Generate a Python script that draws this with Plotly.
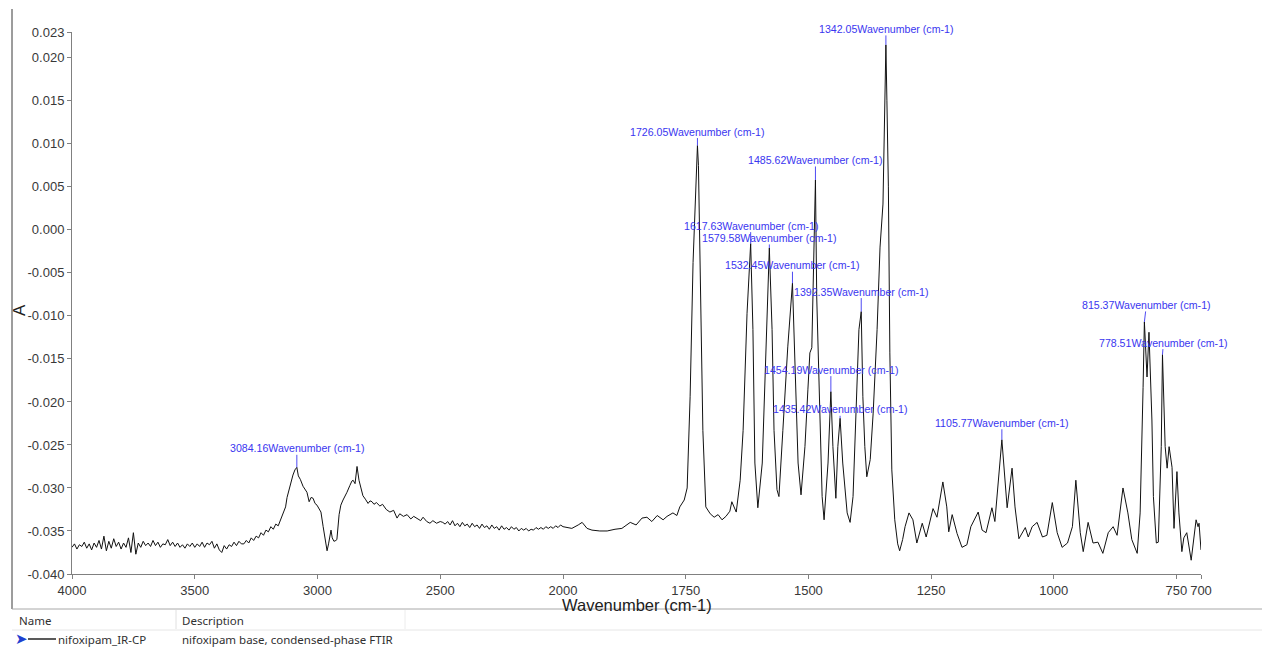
import plotly.graph_objects as go

# ---------------- data ----------------
wn_high = [
    4000, 3990, 3980, 3970, 3960, 3950, 3940, 3930, 3920, 3910,
    3900, 3890, 3880, 3870, 3860, 3850, 3840, 3830, 3820, 3810,
    3800, 3790, 3780, 3770, 3760, 3750, 3740, 3730, 3720, 3710,
    3700, 3690, 3680, 3670, 3660, 3650, 3640, 3630, 3620, 3610,
    3600, 3590, 3580, 3570, 3560, 3550, 3540, 3530, 3520, 3510,
    3500, 3490, 3480, 3470, 3460, 3450, 3440, 3430, 3420, 3410,
    3400, 3390, 3380, 3370, 3360, 3350, 3340, 3330, 3320, 3310,
    3300, 3290, 3280, 3270, 3260, 3250, 3240, 3230, 3220, 3210,
    3200, 3190, 3180, 3170, 3160, 3150, 3140, 3130, 3124, 3115,
    3108, 3100, 3092, 3084.16, 3078, 3070, 3059, 3050, 3043, 3034,
    3026, 3018, 3010, 3002, 2994, 2986, 2977, 2970, 2965, 2961,
    2955, 2949, 2945, 2940, 2933, 2925, 2921, 2912, 2905, 2896,
    2888, 2880, 2868, 2860, 2855, 2847, 2839, 2831, 2823, 2815,
    2805, 2794, 2786, 2778, 2770, 2760, 2746, 2735, 2720, 2705,
    2690, 2676, 2665, 2650, 2635, 2620, 2608, 2595, 2580, 2570,
    2555, 2542, 2530, 2515, 2500, 2490, 2480, 2470, 2460, 2450,
    2440, 2430, 2420, 2410, 2400, 2390, 2380, 2370, 2360, 2350,
    2340, 2330, 2320, 2310, 2300, 2290, 2280, 2270, 2260, 2250,
    2240, 2230, 2220, 2210, 2200, 2190, 2180, 2170, 2160, 2150,
    2140, 2130, 2120, 2110, 2100, 2090, 2080, 2070, 2060, 2050,
    2040, 2030, 2020, 2010, 2000,
]
abs_high = [
    -0.0369, -0.0365, -0.0371, -0.0366, -0.0368, -0.0363, -0.0370, -0.0365, -0.0372, -0.0364,
    -0.0369, -0.0361, -0.0371, -0.0356, -0.0373, -0.0362, -0.0370, -0.0359, -0.0368, -0.0363,
    -0.0371, -0.0364, -0.0369, -0.0358, -0.0375, -0.0352, -0.0377, -0.0364, -0.0369, -0.0362,
    -0.0367, -0.0364, -0.0368, -0.0361, -0.0367, -0.0363, -0.0369, -0.0365, -0.0366, -0.0360,
    -0.0367, -0.0363, -0.0368, -0.0364, -0.0369, -0.0366, -0.0370, -0.0365, -0.0368, -0.0364,
    -0.0369, -0.0365, -0.0368, -0.0363, -0.0369, -0.0364, -0.0366, -0.0362, -0.0370, -0.0365,
    -0.0372, -0.0375, -0.0367, -0.0371, -0.0366, -0.0368, -0.0363, -0.0367, -0.0362, -0.0365,
    -0.0365, -0.0361, -0.0364, -0.0358, -0.0361, -0.0356, -0.0358, -0.0352, -0.0355, -0.0349,
    -0.0351, -0.0345, -0.0348, -0.0342, -0.0344, -0.0337, -0.0331, -0.0322, -0.0311, -0.0300,
    -0.0293, -0.0285, -0.0279, -0.0276, -0.0286, -0.0290, -0.0298, -0.0302, -0.0305, -0.0316,
    -0.0311, -0.0312, -0.0318, -0.0320, -0.0325, -0.0328, -0.0345, -0.0360, -0.0370, -0.0373,
    -0.0365, -0.0352, -0.0349, -0.0358, -0.0362, -0.0361, -0.0360, -0.0331, -0.0320, -0.0314,
    -0.0310, -0.0305, -0.0297, -0.0292, -0.0291, -0.0295, -0.0275, -0.0291, -0.0300, -0.0309,
    -0.0313, -0.0318, -0.0315, -0.0316, -0.0319, -0.0317, -0.0321, -0.0319, -0.0325, -0.0328,
    -0.0326, -0.0335, -0.0330, -0.0333, -0.0331, -0.0336, -0.0333, -0.0335, -0.0338, -0.0334,
    -0.0339, -0.0341, -0.0338, -0.0341, -0.0339, -0.0340, -0.0342, -0.0339, -0.0343, -0.0338,
    -0.0344, -0.0341, -0.0345, -0.0340, -0.0344, -0.0342, -0.0346, -0.0341, -0.0345, -0.0343,
    -0.0347, -0.0342, -0.0346, -0.0344, -0.0348, -0.0343, -0.0347, -0.0345, -0.0349, -0.0344,
    -0.0348, -0.0346, -0.0349, -0.0345, -0.0348, -0.0346, -0.0350, -0.0347, -0.0349, -0.0347,
    -0.0350, -0.0348, -0.0349, -0.0346, -0.0348, -0.0346, -0.0348, -0.0345, -0.0347, -0.0345,
    -0.0347, -0.0344, -0.0346, -0.0343, -0.0345,
]

wn_low = [
    2000, 1982, 1969, 1961, 1951, 1941, 1925, 1910, 1894, 1880,
    1863, 1851, 1839, 1829, 1819, 1808, 1796, 1788, 1776, 1768,
    1762, 1753, 1747, 1741, 1735, 1731, 1728, 1726.05, 1724, 1721,
    1715, 1709, 1700, 1692, 1684, 1676, 1668, 1660, 1656, 1647,
    1639, 1633, 1625, 1617.63, 1613, 1609, 1603, 1594, 1588, 1579.58,
    1574, 1570, 1564, 1560, 1552, 1542, 1532.45, 1527, 1521, 1515,
    1507, 1501, 1497, 1493, 1490, 1485.62, 1483, 1476, 1472, 1468,
    1460, 1454.19, 1450, 1444, 1440, 1435.42, 1430, 1421, 1415, 1409,
    1401, 1397, 1392.35, 1389, 1385, 1381, 1374, 1368, 1360, 1354,
    1348, 1345, 1342.05, 1340, 1337, 1334, 1330, 1324, 1318, 1314,
    1308, 1303, 1295, 1287, 1279, 1268, 1260, 1246, 1238, 1226,
    1218, 1214, 1207, 1197, 1187, 1177, 1169, 1154, 1146, 1138,
    1126, 1120, 1105.77, 1095, 1085, 1079, 1071, 1058, 1052, 1044,
    1034, 1023, 1014, 1003, 993, 983, 972, 962, 955, 946,
    940, 930, 920, 910, 900, 889, 879, 871, 859, 849,
    841, 830, 824, 818, 815.37, 810, 806, 800, 797, 791,
    787, 781, 778.51, 773, 769, 765, 759, 755, 751, 749,
    745, 739, 735, 729, 720, 716, 710, 706, 704, 700,
]
abs_low = [
    -0.0345, -0.0347, -0.0343, -0.0340, -0.0347, -0.0349, -0.0350, -0.0350, -0.0348, -0.0347,
    -0.0340, -0.0343, -0.0335, -0.0334, -0.0339, -0.0332, -0.0337, -0.0333, -0.0329, -0.0332,
    -0.0322, -0.0314, -0.0300, -0.0194, -0.0038, 0.0030, 0.0090, 0.0098, 0.0075, -0.0038,
    -0.0233, -0.0322, -0.0330, -0.0334, -0.0331, -0.0337, -0.0333, -0.0327, -0.0316, -0.0328,
    -0.0291, -0.0233, -0.0097, -0.0016, -0.0116, -0.0271, -0.0323, -0.0271, -0.0155, -0.0021,
    -0.0116, -0.0233, -0.0302, -0.0310, -0.0233, -0.0136, -0.0062, -0.0155, -0.0271, -0.0308,
    -0.0252, -0.0186, -0.0143, -0.0137, -0.0050, 0.0058, -0.0078, -0.0233, -0.0310, -0.0337,
    -0.0271, -0.0188, -0.0252, -0.0312, -0.0252, -0.0219, -0.0271, -0.0329, -0.0340, -0.0310,
    -0.0194, -0.0116, -0.0095, -0.0194, -0.0252, -0.0287, -0.0267, -0.0213, -0.0116, -0.0020,
    0.0030, 0.0128, 0.0215, 0.0150, 0.0050, -0.0143, -0.0279, -0.0337, -0.0365, -0.0373,
    -0.0360, -0.0345, -0.0329, -0.0337, -0.0364, -0.0341, -0.0357, -0.0324, -0.0334, -0.0293,
    -0.0322, -0.0351, -0.0331, -0.0353, -0.0369, -0.0366, -0.0345, -0.0328, -0.0349, -0.0352,
    -0.0323, -0.0339, -0.0244, -0.0323, -0.0277, -0.0322, -0.0359, -0.0346, -0.0357, -0.0345,
    -0.0340, -0.0357, -0.0355, -0.0317, -0.0352, -0.0369, -0.0364, -0.0345, -0.0291, -0.0352,
    -0.0374, -0.0340, -0.0364, -0.0363, -0.0376, -0.0352, -0.0345, -0.0355, -0.0300, -0.0329,
    -0.0360, -0.0376, -0.0329, -0.0183, -0.0107, -0.0171, -0.0119, -0.0221, -0.0310, -0.0364,
    -0.0363, -0.0252, -0.0145, -0.0252, -0.0277, -0.0252, -0.0276, -0.0347, -0.0306, -0.0281,
    -0.0329, -0.0374, -0.0358, -0.0352, -0.0384, -0.0364, -0.0337, -0.0345, -0.0341, -0.0372,
]

peak_wn = [3084.16, 1726.05, 1617.63, 1579.58, 1532.45, 1485.62,
           1454.19, 1435.42, 1392.35, 1342.05, 1105.77, 815.37, 778.51]

x_ticks_high = [4000, 3500, 3000, 2500, 2000]
x_ticks_low = [1750, 1500, 1250, 1000, 750, 700]
y_ticks = [0.023, 0.020, 0.015, 0.010, 0.005, 0.000, -0.005, -0.010,
           -0.015, -0.020, -0.025, -0.030, -0.035, -0.040]

x_title = "Wavenumber (cm-1)"
y_title = "A"
table_headers = ["Name", "Description"]
series_name = "nifoxipam_IR-CP"
series_desc = "nifoxipam base, condensed-phase FTIR"

assert len(wn_high) == len(abs_high)
assert len(wn_low) == len(abs_low)

# ---------------- styles / layout ----------------
BODY = 8                                     # default page margin around the plot div
W, H = 1270 - BODY, 647 - BODY
# plot-area box in page pixels
PL, PR, PT, PB = 72, 1201, 32, 574
SPLIT = 491 / (PR - PL)                      # fraction where 2000 cm-1 sits
label_offsets = {                            # (ax, ay) pixel offsets of peak labels
    3084.16: (0, -19), 1726.05: (0, -14), 1617.63: (0, -18), 1579.58: (0, -10),
    1532.45: (0, -18), 1485.62: (0, -20), 1454.19: (0, -22), 1435.42: (0, -9),
    1392.35: (0, -20), 1342.05: (0, -16), 1105.77: (0, -17), 815.37: (2, -17),
    778.51: (1, -12),
}
LABEL_BLUE = "#3a36f0"
AXIS_GRAY = "#808080"
TICK_FONT = dict(family="Liberation Sans, Arial, sans-serif", size=13, color="#383838")


def fx(px):
    return (px - PL) / (PR - PL)


def fy(py):
    return (PB - py) / (PB - PT)


fig = go.Figure()
line_style = dict(color="#111111", width=1)
fig.add_trace(go.Scatter(x=wn_high, y=abs_high, xaxis="x", yaxis="y",
                         mode="lines", line=line_style, hoverinfo="skip", showlegend=False))
fig.add_trace(go.Scatter(x=wn_low, y=abs_low, xaxis="x2", yaxis="y",
                         mode="lines", line=line_style, hoverinfo="skip", showlegend=False))

axis_common = dict(ticks="outside", ticklen=4, tickcolor=AXIS_GRAY, tickwidth=1,
                   showline=True, linecolor=AXIS_GRAY, linewidth=1,
                   showgrid=False, zeroline=False, tickfont=TICK_FONT, tickangle=0)

fig.update_layout(
    width=W, height=H, autosize=False,
    margin=dict(l=PL - BODY, r=1270 - PR, t=PT - BODY, b=647 - PB, pad=0),
    paper_bgcolor="white", plot_bgcolor="white",
    showlegend=False,
    xaxis=dict(domain=[0, SPLIT], range=[4000, 2000], tickvals=x_ticks_high,
               ticktext=[str(v) for v in x_ticks_high], anchor="y", **axis_common),
    xaxis2=dict(domain=[SPLIT, 1], range=[2000, 700], tickvals=x_ticks_low,
                ticktext=[str(v) for v in x_ticks_low], anchor="y", **axis_common),
    yaxis=dict(range=[-0.040, 0.023], tickvals=y_ticks,
               ticktext=[f"{v:.3f}".replace("-0.000", "0.000") for v in y_ticks],
               **axis_common),
)

annotations = []
for w in peak_wn:
    if w in wn_high:
        xref, yv = "x", abs_high[wn_high.index(w)]
    else:
        xref, yv = "x2", abs_low[wn_low.index(w)]
    ax, ay = label_offsets[w]
    annotations.append(dict(
        x=w, y=yv, xref=xref, yref="y", text=f"{w:.2f}Wavenumber (cm-1)",
        showarrow=True, arrowhead=0, arrowwidth=0.9, arrowcolor=LABEL_BLUE,
        ax=ax, ay=ay, standoff=0, startstandoff=0, borderpad=0,
        font=dict(family="Liberation Sans, Arial, sans-serif", size=10.6, color=LABEL_BLUE),
    ))

# axis titles
annotations.append(dict(x=0.5, y=fy(605), xref="paper", yref="paper", text=x_title,
                        showarrow=False, xanchor="center", yanchor="middle",
                        font=dict(family="Liberation Sans, Arial, sans-serif", size=16.5, color="#202020")))
annotations.append(dict(x=fx(20), y=fy(310), xref="paper", yref="paper", text=y_title,
                        showarrow=False, xanchor="center", yanchor="middle", textangle=-90,
                        font=dict(family="Liberation Sans, Arial, sans-serif", size=17, color="#202020")))

# table beneath the chart
tfont = dict(family="Noto Sans, Open Sans, sans-serif", size=11.5, color="#303030")
annotations.append(dict(x=fx(17), y=fy(620), xref="paper", yref="paper", text=table_headers[0],
                        showarrow=False, xanchor="left", yanchor="middle", font=tfont))
annotations.append(dict(x=fx(180), y=fy(620), xref="paper", yref="paper", text=table_headers[1],
                        showarrow=False, xanchor="left", yanchor="middle", font=tfont))
annotations.append(dict(x=fx(56), y=fy(639), xref="paper", yref="paper", text=series_name,
                        showarrow=False, xanchor="left", yanchor="middle", font=tfont))
annotations.append(dict(x=fx(180), y=fy(639), xref="paper", yref="paper", text=series_desc,
                        showarrow=False, xanchor="left", yanchor="middle", font=tfont))
annotations.append(dict(x=fx(21), y=fy(639), xref="paper", yref="paper", text="➤",
                        showarrow=False, xanchor="center", yanchor="middle",
                        font=dict(family="DejaVu Sans", size=15, color="#1f3fd0")))

shapes = [
    dict(type="line", xref="paper", yref="paper", x0=fx(12), x1=fx(12), y0=fy(9), y1=fy(609),
         line=dict(color="#3a3a3a", width=1)),
    dict(type="line", xref="paper", yref="paper", x0=fx(12), x1=fx(1270), y0=fy(609), y1=fy(609),
         line=dict(color="#a8a8a8", width=1)),
    dict(type="line", xref="paper", yref="paper", x0=fx(12), x1=fx(1270), y0=fy(630), y1=fy(630),
         line=dict(color="#e6e6e6", width=1)),
    dict(type="line", xref="paper", yref="paper", x0=fx(176), x1=fx(176), y0=fy(610), y1=fy(629),
         line=dict(color="#e0e0e0", width=1)),
    dict(type="line", xref="paper", yref="paper", x0=fx(405), x1=fx(405), y0=fy(610), y1=fy(629),
         line=dict(color="#ececec", width=1)),
    dict(type="line", xref="paper", yref="paper", x0=fx(28), x1=fx(56), y0=fy(639), y1=fy(639),
         line=dict(color="#000000", width=1.3)),
]

fig.update_layout(annotations=annotations, shapes=shapes)
fig.write_html("out.html")
